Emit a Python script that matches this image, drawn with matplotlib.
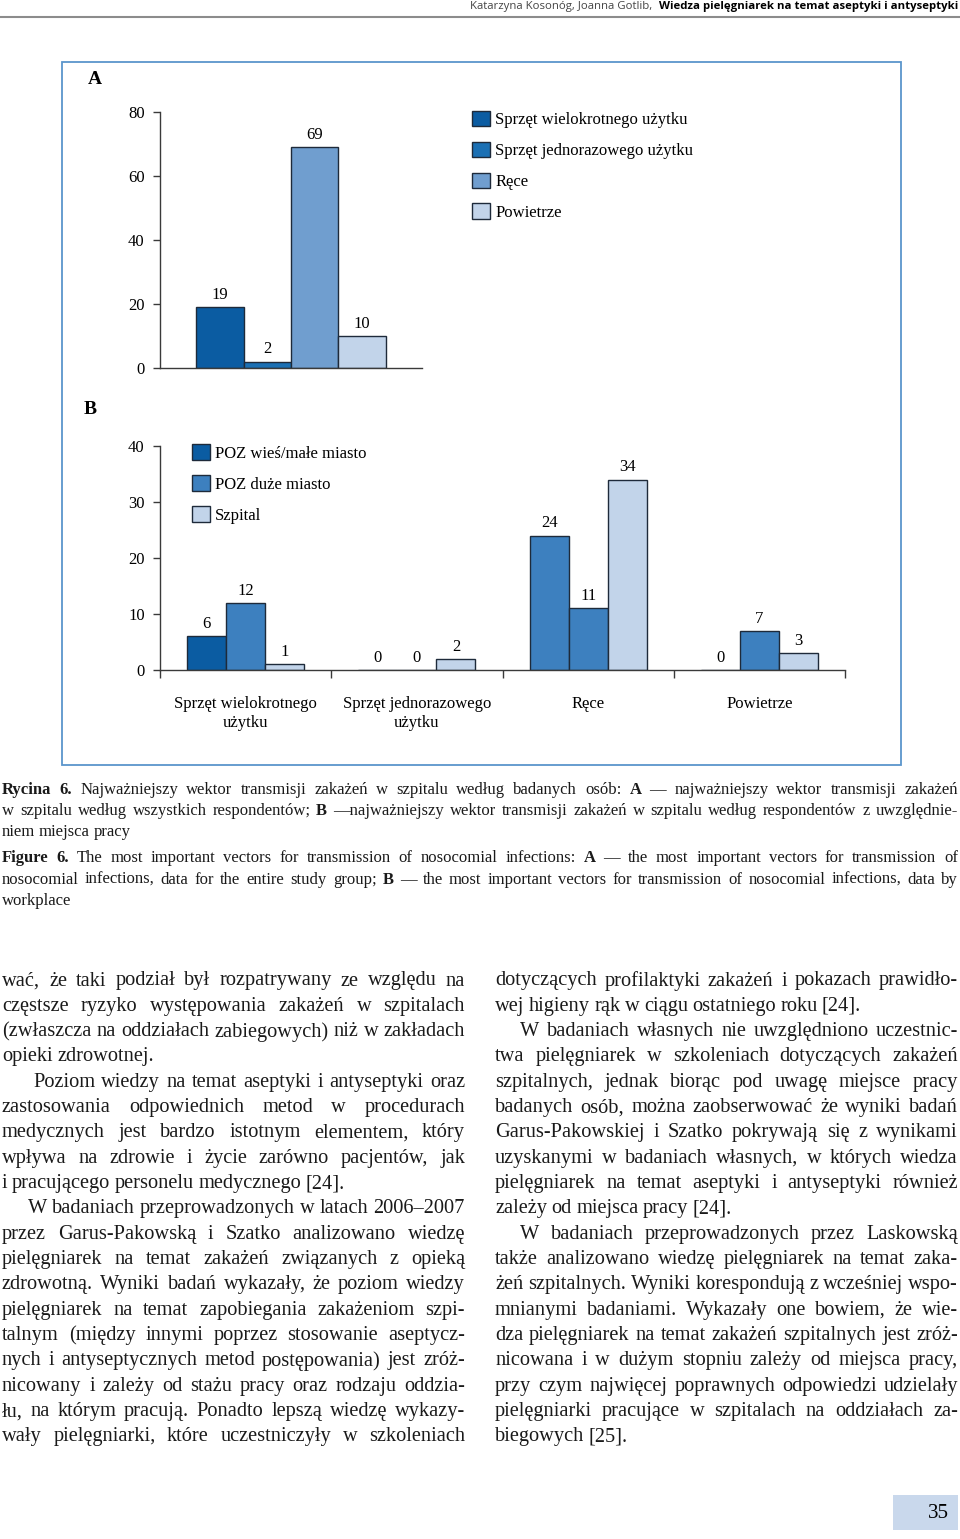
import numpy as np
import matplotlib
matplotlib.use('Agg')
import matplotlib.pyplot as plt
from matplotlib.patches import Rectangle
from matplotlib.lines import Line2D

# --- data -------------------------------------------------------------
vectors = ['Sprzęt wielokrotnego użytku', 'Sprzęt jednorazowego użytku', 'Ręce', 'Powietrze']
all_counts = [19, 2, 69, 10]
vector_colors = ['#0b5ca2', '#1b70b4', '#709ecf', '#c2d4ea']

workplaces = ['POZ wieś/małe miasto', 'POZ duże miasto', 'Szpital']
group_labels = ['Sprzęt wielokrotnego\nużytku', 'Sprzęt jednorazowego\nużytku', 'Ręce', 'Powietrze']
poz_wies = [6, 0, 24, 0]
poz_duze = [12, 0, 11, 7]
szpital = [1, 2, 34, 3]
# the printed chart shows the "Ręce" bar of the first series in the lighter blue
wies_colors = ['#0b5ca2', '#0b5ca2', '#3d80bf', '#0b5ca2']

caption_lines = [
    '*Rycina *6. Najważniejszy wektor transmisji zakażeń w szpitalu według badanych osób: *A — najważniejszy wektor transmisji zakażeń',
    'w szpitalu według wszystkich respondentów; *B —najważniejszy wektor transmisji zakażeń w szpitalu według respondentów z uwzględnie-',
    'niem miejsca pracy',
    '*Figure *6. The most important vectors for transmission of nosocomial infections: *A — the most important vectors for transmission of',
    'nosocomial infections, data for the entire study group; *B — the most important vectors for transmission of nosocomial infections, data by',
    'workplace',
]
caption_y = [790, 811, 832, 858, 880, 901]
caption_last = [False, False, True, False, False, True]

left_col = [
    'wać, że taki podział był rozpatrywany ze względu na',
    'częstsze ryzyko występowania zakażeń w szpitalach',
    '(zwłaszcza na oddziałach zabiegowych) niż w zakładach',
    'opieki zdrowotnej.',
    'Poziom wiedzy na temat aseptyki i antyseptyki oraz',
    'zastosowania odpowiednich metod w procedurach',
    'medycznych jest bardzo istotnym elementem, który',
    'wpływa na zdrowie i życie zarówno pacjentów, jak',
    'i pracującego personelu medycznego [24].',
    'W badaniach przeprowadzonych w latach 2006–2007',
    'przez Garus-Pakowską i Szatko analizowano wiedzę',
    'pielęgniarek na temat zakażeń związanych z opieką',
    'zdrowotną. Wyniki badań wykazały, że poziom wiedzy',
    'pielęgniarek na temat zapobiegania zakażeniom szpi-',
    'talnym (między innymi poprzez stosowanie aseptycz-',
    'nych i antyseptycznych metod postępowania) jest zróż-',
    'nicowany i zależy od stażu pracy oraz rodzaju oddzia-',
    'łu, na którym pracują. Ponadto lepszą wiedzę wykazy-',
    'wały pielęgniarki, które uczestniczyły w szkoleniach',
]
left_indent = {4: 31, 9: 26}
left_last = {3, 8}

right_col = [
    'dotyczących profilaktyki zakażeń i pokazach prawidło-',
    'wej higieny rąk w ciągu ostatniego roku [24].',
    'W badaniach własnych nie uwzględniono uczestnic-',
    'twa pielęgniarek w szkoleniach dotyczących zakażeń',
    'szpitalnych, jednak biorąc pod uwagę miejsce pracy',
    'badanych osób, można zaobserwować że wyniki badań',
    'Garus-Pakowskiej i Szatko pokrywają się z wynikami',
    'uzyskanymi w badaniach własnych, w których wiedza',
    'pielęgniarek na temat aseptyki i antyseptyki również',
    'zależy od miejsca pracy [24].',
    'W badaniach przeprowadzonych przez Laskowską',
    'także analizowano wiedzę pielęgniarek na temat zaka-',
    'żeń szpitalnych. Wyniki korespondują z wcześniej wspo-',
    'mnianymi badaniami. Wykazały one bowiem, że wie-',
    'dza pielęgniarek na temat zakażeń szpitalnych jest zróż-',
    'nicowana i w dużym stopniu zależy od miejsca pracy,',
    'przy czym najwięcej poprawnych odpowiedzi udzielały',
    'pielęgniarki pracujące w szpitalach na oddziałach za-',
    'biegowych [25].',
]
right_indent = {2: 25, 10: 25}
right_last = {1, 9, 18}

# --- page -------------------------------------------------------------
W, H = 960, 1539
fig = plt.figure(figsize=(W / 100, H / 100), dpi=100)
renderer = fig.canvas.get_renderer()
serif = 'Liberation Serif'


def fx(px):
    return px / W


def fy(py):
    return 1 - py / H


def put_line(text, x0, x1, y, size, justify=True):
    arts = []
    for word in text.split(' '):
        bold = word.startswith('*')
        s = word[1:] if bold else word
        arts.append(fig.text(0, 0, s, fontsize=size, family=serif,
                             weight='bold' if bold else 'normal',
                             ha='left', va='center', color='#1a1a1a'))
    widths = [a.get_window_extent(renderer).width for a in arts]
    if justify and len(arts) > 1:
        gap = (x1 - x0 - sum(widths)) / (len(arts) - 1)
    else:
        gap = size * 0.3
    x = x0
    for a, w in zip(arts, widths):
        a.set_position((fx(x), fy(y)))
        x += w + gap


# header
hb = fig.text(fx(958), fy(7), 'Wiedza pielęgniarek na temat aseptyki i antyseptyki',
              family='Open Sans', weight='bold', fontsize=8.2, ha='right', va='center')
bw = hb.get_window_extent(renderer).width
fig.text(fx(958 - bw - 6), fy(7), 'Katarzyna Kosonóg, Joanna Gotlib,',
         family='Open Sans', fontsize=8.2, ha='right', va='center', color='#444444')
fig.add_artist(Line2D([0, 1], [fy(17), fy(17)], color='#8c8c8c', lw=1.5,
                      transform=fig.transFigure))

# figure frame
fig.add_artist(Rectangle((fx(62), fy(765)), fx(901) - fx(62), fy(62) - fy(765),
                         transform=fig.transFigure, fill=False,
                         edgecolor='#5b95cc', lw=1.3))
fig.text(fx(95), fy(80), 'A', family=serif, weight='bold', fontsize=14, ha='center', va='center')
fig.text(fx(90), fy(410), 'B', family=serif, weight='bold', fontsize=14, ha='center', va='center')


def style_axes(ax):
    for side in ('top', 'right'):
        ax.spines[side].set_visible(False)
    for side in ('left', 'bottom'):
        ax.spines[side].set_color('#3a3a3a')
        ax.spines[side].set_linewidth(1.0)
    ax.tick_params(axis='y', direction='out', length=5, width=1, color='#3a3a3a',
                   pad=6, labelsize=12)
    for lab in ax.get_yticklabels():
        lab.set_family(serif)


# --- panel A ----------------------------------------------------------
axA = fig.add_axes([fx(160), fy(368), fx(422) - fx(160), fy(112) - fy(368)])
x = np.arange(len(vectors))
for i, (name, val, col) in enumerate(zip(vectors, all_counts, vector_colors)):
    bars = axA.bar(x[i], val, width=1.0, color=col, edgecolor='#1e2a3a', linewidth=1.0,
                   label=name)
    axA.bar_label(bars, padding=3, fontsize=12, family=serif)
axA.set_xlim(-1.26, 4.26)
axA.set_ylim(0, 80)
axA.set_yticks([0, 20, 40, 60, 80])
axA.set_xticks([])
style_axes(axA)
axA.legend(loc='upper left', bbox_to_anchor=(fx(472), fy(111)), bbox_transform=fig.transFigure,
           frameon=False, prop={'family': serif, 'size': 12}, handlelength=1.05,
           handleheight=1.05, handletextpad=0.35, labelspacing=0.8, borderpad=0,
           borderaxespad=0)

# --- panel B ----------------------------------------------------------
axB = fig.add_axes([fx(160), fy(670), fx(845) - fx(160), fy(446) - fy(670)])
g = np.arange(len(group_labels))
bw_ = 0.228
series = [(poz_wies, wies_colors), (poz_duze, '#3d80bf'), (szpital, '#c2d4ea')]
for k, (name, (vals, col)) in enumerate(zip(workplaces, series)):
    bars = axB.bar(g + (k - 1) * bw_, vals, width=bw_, color=col, edgecolor='#1e2a3a',
                   linewidth=1.0, label=name)
    axB.bar_label(bars, padding=3, fontsize=12, family=serif)
axB.set_xlim(-0.5, 3.5)
axB.set_ylim(0, 40)
axB.set_yticks([0, 10, 20, 30, 40])
axB.set_xticks(g)
axB.set_xticklabels(group_labels, family=serif, fontsize=12, linespacing=1.2)
axB.set_xticks(np.arange(-0.5, 4.0, 1.0), minor=True)
axB.tick_params(axis='x', which='major', length=0, pad=19)
axB.tick_params(axis='x', which='minor', direction='out', length=6, width=1, color='#3a3a3a')
style_axes(axB)
axB.legend(loc='upper left', bbox_to_anchor=(fx(192), fy(444)), bbox_transform=fig.transFigure,
           frameon=False, prop={'family': serif, 'size': 12}, handlelength=1.1,
           handleheight=1.1, handletextpad=0.3, labelspacing=0.8, borderpad=0,
           borderaxespad=0)

# --- caption ----------------------------------------------------------
for line, y, last in zip(caption_lines, caption_y, caption_last):
    put_line(line, 2, 958, y, 12, justify=not last)

# --- body text --------------------------------------------------------
line_y0, pitch = 981, 25.33
for i, line in enumerate(left_col):
    put_line(line, 2 + left_indent.get(i, 0), 465, line_y0 + i * pitch, 14.7,
             justify=i not in left_last)
for i, line in enumerate(right_col):
    put_line(line, 495 + right_indent.get(i, 0), 958, line_y0 + i * pitch, 14.7,
             justify=i not in right_last)

# page number
fig.add_artist(Rectangle((fx(893), fy(1530)), fx(958) - fx(893), fy(1495) - fy(1530),
                         transform=fig.transFigure, facecolor='#c9d8ec', edgecolor='none'))
fig.text(fx(938), fy(1513), '35', family=serif, fontsize=15, ha='center', va='center')

fig.savefig('out.png', dpi=100)
